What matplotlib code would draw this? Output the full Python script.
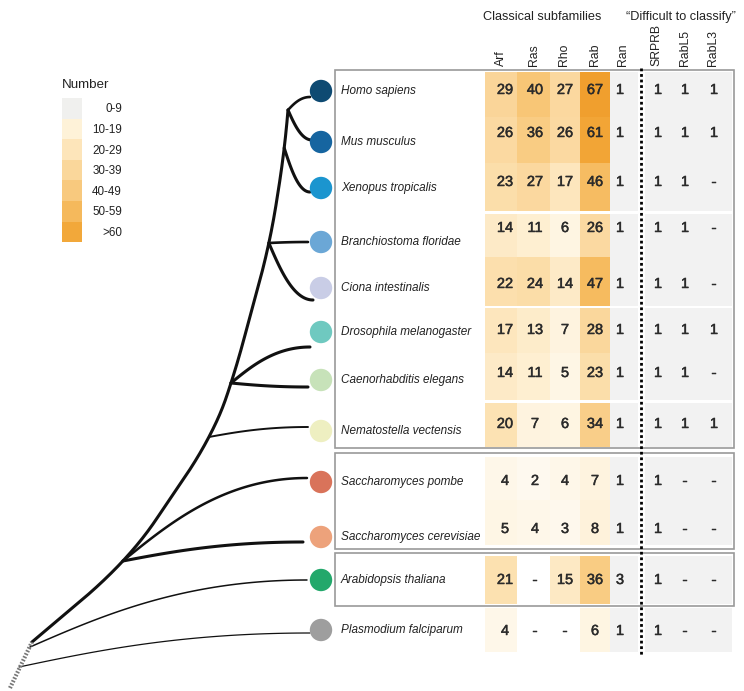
import numpy as np
import matplotlib.pyplot as plt
import matplotlib.patheffects as pe
from matplotlib.patches import Rectangle
from matplotlib.colors import LinearSegmentedColormap

plt.rcParams['font.family'] = ['Liberation Sans', 'DejaVu Sans']

# --- data -------------------------------------------------------------
species = ['Homo sapiens', 'Mus musculus', 'Xenopus tropicalis',
           'Branchiostoma floridae', 'Ciona intestinalis',
           'Drosophila melanogaster', 'Caenorhabditis elegans',
           'Nematostella vectensis', 'Saccharomyces pombe',
           'Saccharomyces cerevisiae', 'Arabidopsis thaliana',
           'Plasmodium falciparum']
classical = ['Arf', 'Ras', 'Rho', 'Rab']
others = ['Ran', 'SRPRB', 'RabL5', 'RabL3']

arf = [29, 26, 23, 14, 22, 17, 14, 20, 4, 5, 21, 4]
ras = [40, 36, 27, 11, 24, 13, 11, 7, 2, 4, None, None]
rho = [27, 26, 17, 6, 14, 7, 5, 6, 4, 3, 15, None]
rab = [67, 61, 46, 26, 47, 28, 23, 34, 7, 8, 36, 6]
ran = [1, 1, 1, 1, 1, 1, 1, 1, 1, 1, 3, 1]
srprb = [1, 1, 1, 1, 1, 1, 1, 1, 1, 1, 1, 1]
rabl5 = [1, 1, 1, 1, 1, 1, 1, 1, None, None, None, None]
rabl3 = [1, 1, None, None, None, 1, None, 1, None, None, None, None]

legend_labels = ['0-9', '10-19', '20-29', '30-39', '40-49', '50-59', '>60']
legend_colors = ['#f0f0ee', '#fef2d8', '#fde5ba', '#fad79b',
                 '#f8c97e', '#f5b95c', '#f2a83a']
dot_colors = ['#0e4a72', '#1665a0', '#1b95cf', '#6ba7d6', '#c9cde6',
              '#6fc9c0', '#c7e2b9', '#eeefc1', '#d9735a', '#eda27b',
              '#23a86b', '#9e9e9e']

# --- layout (pixel units) ------------------------------------------------
W, H = 744, 691
label_y = [91, 142, 188, 242, 288, 332, 380, 431, 482, 537, 580, 630]
num_y = [90, 133, 182, 228, 284, 330, 373, 424, 481, 529, 580, 631]
row_edges = [(72, 117), (117, 163), (163, 211), (214, 257), (257, 306),
             (308, 353), (353, 400), (403, 447), (457, 500), (500, 545),
             (556, 604), (608, 652)]
col_edges = [(485, 517), (517, 550), (550, 580), (580, 610), (610, 638),
             (645, 673), (673, 700), (700, 732)]
num_x = [505, 535, 565, 595, 620, 658, 685, 714]
head_x = [501, 534, 564, 595, 623, 656, 685, 713]
boxes = [(335, 70, 734, 448), (335, 453, 734, 549), (335, 553, 734, 606)]

# tree: internal nodes and where each leaf branch ends
nodes = {'root': (32, 642), 'opisth': (128, 561), 'metazoa': (212, 437),
         'ecdyso': (232, 383), 'chordata': (270, 243),
         'tetrapoda': (285, 148), 'mammalia': (288, 110),
         'plant': (30, 647), 'apicomp': (19, 667)}
trunk = ['root', 'opisth', 'metazoa', 'ecdyso', 'chordata',
         'tetrapoda', 'mammalia']
tip_x = [310, 312, 310, 308, 313, 310, 308, 308, 307, 303, 307, 310]
tip_y = [97, 140, 192, 242, 300, 347, 387, 427, 478, 542, 580, 633]
leaf_parent = ['mammalia', 'mammalia', 'tetrapoda', 'chordata', 'chordata',
               'ecdyso', 'ecdyso', 'metazoa', 'opisth', 'opisth',
               'plant', 'apicomp']
leaf_lw = [1.9, 2.2, 2.2, 1.9, 2.2, 2.2, 2.2, 1.4, 1.8, 2.2, 1.1, 0.9]

cmap = LinearSegmentedColormap.from_list(
    'counts',
    [(0.0, '#fefbf6'), (10 / 70, '#fef0d4'), (20 / 70, '#fce2b3'),
     (30 / 70, '#fad496'), (40 / 70, '#f8c676'), (50 / 70, '#f5b655'),
     (60 / 70, '#f2a638'), (1.0, '#ef9d2a')])


def branch(p0, p1, n=60):
    """Cubic curve that leaves the node obliquely and flattens at the tip."""
    p0 = np.array(p0, float)
    p1 = np.array(p1, float)
    d = p1 - p0
    c1 = p0 + np.array([0.25 * d[0], 0.45 * d[1]])
    c2 = np.array([p0[0] + 0.55 * d[0], p1[1]])
    t = np.linspace(0, 1, n)[:, None]
    pts = ((1 - t) ** 3 * p0 + 3 * (1 - t) ** 2 * t * c1
           + 3 * (1 - t) * t ** 2 * c2 + t ** 3 * p1)
    return pts[:, 0], pts[:, 1]


# backbone: polyline through the trunk nodes, corners rounded off with a
# moving average; the nodes are then snapped onto the smoothed curve
ty_nodes = np.array([nodes[k][1] for k in trunk], float)
tx_nodes = np.array([nodes[k][0] for k in trunk], float)
yy = np.linspace(ty_nodes[0], ty_nodes[-1], 534)
xx = np.interp(yy, ty_nodes[::-1], tx_nodes[::-1])
win = 81
pad = win // 2
xx_pad = np.concatenate([2 * xx[0] - xx[pad:0:-1], xx,
                         2 * xx[-1] - xx[-2:-pad - 2:-1]])
xx_s = np.convolve(xx_pad, np.ones(win) / win, mode='valid')
for k in trunk:
    nodes[k] = (float(np.interp(nodes[k][1], yy[::-1], xx_s[::-1])),
                nodes[k][1])

fig, ax = plt.subplots(figsize=(W / 100, H / 100), dpi=100)
ax.set_position([0, 0, 1, 1])
ax.set_xlim(0, W)
ax.set_ylim(H, 0)
ax.axis('off')

bold_ink = [pe.withStroke(linewidth=0.35, foreground='#2b2b2b')]

# --- heatmap cells and counts ------------------------------------------
columns = [arf, ras, rho, rab, ran, srprb, rabl5, rabl3]
for j, vals in enumerate(columns):
    x0, x1 = col_edges[j]
    for i, v in enumerate(vals):
        y0, y1 = row_edges[i]
        if j < len(classical):
            fc = 'white' if v is None else cmap(min(v, 70) / 70)
        else:
            fc = '#f2f2f2'
        ax.add_patch(Rectangle((x0, y0), x1 - x0, y1 - y0, fc=fc,
                               ec='none', zorder=1))
        ax.text(num_x[j], num_y[i], '-' if v is None else str(v),
                ha='center', va='center', fontsize=10.5, color='#2b2b2b',
                path_effects=bold_ink, zorder=4)

for x0, y0, x1, y1 in boxes:
    ax.add_patch(Rectangle((x0, y0), x1 - x0, y1 - y0, fc='none',
                           ec='#9a9a9a', lw=1.2, zorder=3))

ax.plot([641, 641], [68, 655], ls=(0, (1, 1)), lw=2, color='black',
        zorder=5)

# --- column headers ---------------------------------------------------
for x, name in zip(head_x, classical + others):
    ax.text(x, 66, name, rotation=90, ha='center', va='bottom',
            fontsize=8.8, color='#222222')
ax.text(542, 17, 'Classical subfamilies', ha='center', va='center',
        fontsize=9.2, color='#222222')
ax.text(681, 17, '\u201cDifficult to classify\u201d', ha='center',
        va='center', fontsize=9.2, color='#222222')

# --- species labels and dots ------------------------------------------
for i, name in enumerate(species):
    ax.text(341, label_y[i], name, ha='left', va='center', fontsize=8.5,
            style='italic', color='#222222', zorder=4)
ax.scatter([321] * len(species), label_y, s=260, c=dot_colors,
           edgecolors='none', zorder=6)

# --- tree ------------------------------------------------------------
ax.plot(xx_s, yy, color='#111111', lw=2.2, solid_capstyle='round', zorder=2)
for i, parent in enumerate(leaf_parent):
    bx, by = branch(nodes[parent], (tip_x[i], tip_y[i]))
    ax.plot(bx, by, color='#111111', lw=leaf_lw[i],
            solid_capstyle='round', zorder=2)
ax.plot([10, nodes['root'][0]], [688, 642], color='#777777', lw=3,
        ls=(0, (0.4, 0.4)), zorder=2)

# --- legend ----------------------------------------------------------
ax.text(62, 85, 'Number', ha='left', va='center', fontsize=9.6,
        color='#222222')
sw_h = 20.6
for k, (lab, col) in enumerate(zip(legend_labels, legend_colors)):
    y0 = 98 + k * sw_h
    ax.add_patch(Rectangle((62, y0), 20, sw_h, fc=col, ec='none'))
    ax.text(122, y0 + sw_h / 2 + 1, lab, ha='right', va='center',
            fontsize=8.4, color='#222222')

fig.savefig('out.png', dpi=100)
